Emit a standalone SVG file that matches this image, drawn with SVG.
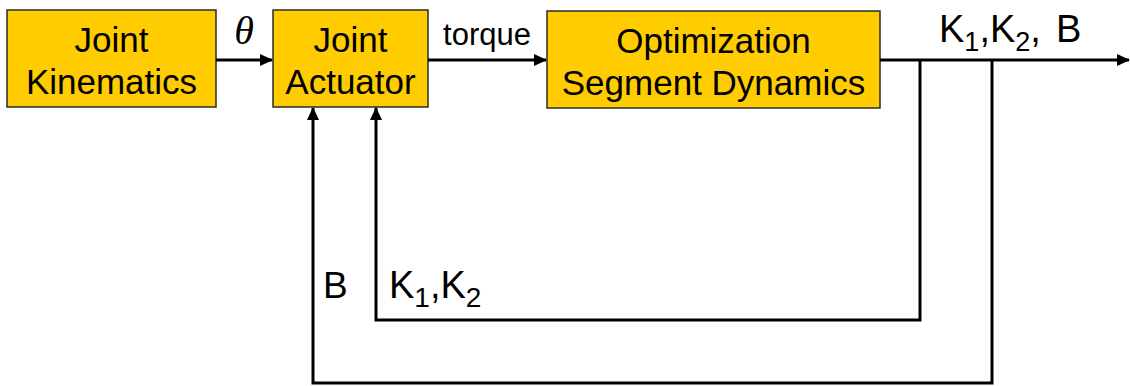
<svg xmlns="http://www.w3.org/2000/svg" width="1130" height="386" viewBox="0 0 1130 386">
  <style>
    .box { fill: #FFCC00; stroke: #2b2b2b; stroke-width: 1.5; }
    .lbl { font-family: "Liberation Sans", Arial, sans-serif; font-size: 35px; fill: #000; text-anchor: middle; }
    .sig { font-family: "Liberation Sans", Arial, sans-serif; fill: #000; }
    .wire { fill: none; stroke: #000; stroke-width: 3; }
  </style>
  <defs>
    <marker id="arrow" markerWidth="13" markerHeight="12" refX="12" refY="6" orient="auto" markerUnits="userSpaceOnUse">
      <path d="M0,0 L13,6 L0,12 Z" fill="#000"/>
    </marker>
  </defs>

  <rect width="1130" height="386" fill="#fff"/>

  <!-- blocks -->
  <g id="joint-kinematics">
    <rect class="box" x="7" y="10" width="209" height="97"/>
    <text class="lbl" x="111.5" y="52">Joint</text>
    <text class="lbl" x="111.5" y="94">Kinematics</text>
  </g>
  <g id="joint-actuator">
    <rect class="box" x="273" y="10" width="155" height="97"/>
    <text class="lbl" x="350.5" y="52">Joint</text>
    <text class="lbl" x="350.5" y="94">Actuator</text>
  </g>
  <g id="optimization">
    <rect class="box" x="547" y="11" width="333" height="97"/>
    <text class="lbl" x="713.5" y="53" font-size="34">Optimization</text>
    <text class="lbl" x="713.5" y="95" font-size="34">Segment Dynamics</text>
  </g>

  <!-- signal lines -->
  <g id="connectors">
    <path class="wire" d="M216,60 H272" marker-end="url(#arrow)"/>
    <path class="wire" d="M428,60 H546" marker-end="url(#arrow)"/>
    <path class="wire" d="M880,60 H1129" marker-end="url(#arrow)"/>
    <path class="wire" d="M920,60 V320 H376 V108" marker-end="url(#arrow)"/>
    <path class="wire" d="M992,60 V383 H313 V108" marker-end="url(#arrow)"/>
  </g>

  <!-- signal labels -->
  <g id="labels">
    <text x="244" y="44" font-family="Liberation Serif, serif" font-style="italic" font-size="40" text-anchor="middle">θ</text>
    <text class="sig" x="487" y="45" font-size="31" text-anchor="middle">torque</text>
    <text class="sig" x="939" y="42" font-size="38">K<tspan font-size="27" dy="9">1</tspan><tspan dy="-9">,K</tspan><tspan font-size="27" dy="9">2</tspan><tspan dy="-9">,</tspan><tspan x="1056">B</tspan></text>
    <text class="sig" x="323" y="298" font-size="37">B</text>
    <text class="sig" x="389" y="298" font-size="38">K<tspan font-size="28" dy="9">1</tspan><tspan dy="-9">,K</tspan><tspan font-size="28" dy="9">2</tspan></text>
  </g>
</svg>
